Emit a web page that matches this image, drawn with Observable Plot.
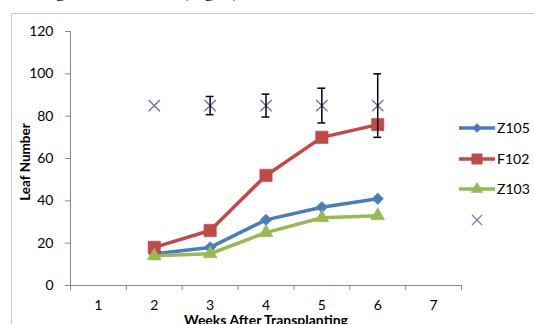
<!DOCTYPE html>
<html>
<head>
<meta charset="utf-8">
<script src="https://cdn.jsdelivr.net/npm/d3@7"></script>
<script src="https://cdn.jsdelivr.net/npm/@observablehq/plot@0.6"></script>
<style>
  html, body { margin: 0; padding: 0; background: #fff; }
  #wrap { position: relative; width: 534px; height: 324px; overflow: hidden; font-family: Lato, "Open Sans", sans-serif; }
  #frame { position: absolute; left: 11px; top: 13px; width: 700px; height: 500px; border: 1px solid #c8c8c8; box-sizing: border-box; }
  #chart { position: absolute; left: 0; top: 0; }
  .cap { position: absolute; top: -20px; font-family: "Liberation Serif", serif; font-size: 19px; color: #000; white-space: nowrap; }
  #ylab { position: absolute; left: 25px; top: 162px; transform: translate(-50%, -50%) rotate(-90deg); font-weight: bold; font-size: 13.5px; white-space: nowrap; }
  #legend { position: absolute; left: 458px; top: 118px; font-size: 14px; }
  .li { position: absolute; left: 0; height: 20px; white-space: nowrap; }
  .li svg { position: absolute; left: 0; top: 0; }
  .li span { position: absolute; left: 39px; top: 1px; }
</style>
</head>
<body>
<div id="wrap">
  <div class="cap" style="left:46px">ng</div>
  <div class="cap" style="left:182px">(Fig. 2)</div>
  <div id="frame"></div>
  <div id="chart"></div>
  <div id="ylab">Leaf Number</div>
  <div id="legend"></div>
</div>
<script>
const weeks = [2, 3, 4, 5, 6];
const z105 = [15, 18, 31, 37, 41];
const f102 = [18, 26, 52, 70, 76];
const z103 = [14, 15, 25, 32, 33];
const markX = [85, 85, 85, 85, 85];
const markErr = [0, 4.3, 5.4, 8.2, 15];
const xTickLabels = [1, 2, 3, 4, 5, 6, 7];
const yTicks = [0, 20, 40, 60, 80, 100, 120];
const seriesNames = ["Z105", "F102", "Z103"];

const colors = {Z105: "#4a7ebb", F102: "#be4b48", Z103: "#98b954", X: "#8064a2"};
const toRows = (name, vals) => weeks.map((w, i) => ({name, week: w, v: vals[i]}));
const rowsZ105 = toRows("Z105", z105);
const rowsF102 = toRows("F102", f102);
const rowsZ103 = toRows("Z103", z103);
const rowsX = weeks.map((w, i) => ({week: w, v: markX[i], e: markErr[i]}));
const errRows = rowsX.filter(d => d.e > 0);
const bandEdges = d3.range(0.5, 8, 1);
const capHalf = 0.07;

const plot = Plot.plot({
  width: 534,
  height: 324,
  marginLeft: 70,
  marginRight: 73,
  marginTop: 31,
  marginBottom: 39,
  style: {fontFamily: "Lato, 'Open Sans', sans-serif", fontSize: "14px", color: "#000", background: "transparent"},
  x: {type: "linear", domain: [0.5, 7.5]},
  y: {type: "linear", domain: [0, 120]},
  marks: [
    Plot.axisY({ticks: yTicks, tickSize: 5, tickPadding: 12, stroke: "#868686", fill: "#000", label: null, fontSize: 14}),
    Plot.axisX({ticks: bandEdges, tickSize: 5, tickFormat: () => "", stroke: "#868686", label: null}),
    Plot.axisX({ticks: xTickLabels, tickSize: 0, tickPadding: 15, tickFormat: d3.format("d"), fill: "#000", label: null, fontSize: 14}),
    Plot.ruleX([0.5], {y1: 0, y2: 120, stroke: "#868686"}),
    Plot.ruleY([0], {x1: 0.5, x2: 7.5, stroke: "#868686"}),
    Plot.line(rowsZ105, {x: "week", y: "v", stroke: colors.Z105, strokeWidth: 3.5}),
    Plot.line(rowsF102, {x: "week", y: "v", stroke: colors.F102, strokeWidth: 3.5}),
    Plot.line(rowsZ103, {x: "week", y: "v", stroke: colors.Z103, strokeWidth: 3.5}),
    Plot.dot(rowsZ105, {x: "week", y: "v", symbol: "diamond2", r: 5, fill: colors.Z105, stroke: colors.Z105, strokeWidth: 1}),
    Plot.dot(rowsF102, {x: "week", y: "v", symbol: "square", r: 7, fill: colors.F102, stroke: colors.F102, strokeWidth: 0.5}),
    Plot.dot(rowsZ103, {x: "week", y: "v", symbol: "triangle", r: 5.2, fill: colors.Z103, stroke: colors.Z103, strokeWidth: 0.5}),
    Plot.dot(rowsX, {x: "week", y: "v", symbol: "times", r: 5.2, stroke: colors.X, strokeWidth: 1.3}),
    Plot.ruleX(errRows, {x: "week", y1: d => d.v - d.e, y2: d => d.v + d.e, stroke: "#000", strokeWidth: 1.5}),
    Plot.ruleY(errRows, {y: d => d.v + d.e, x1: d => d.week - capHalf, x2: d => d.week + capHalf, stroke: "#000", strokeWidth: 1.5}),
    Plot.ruleY(errRows, {y: d => d.v - d.e, x1: d => d.week - capHalf, x2: d => d.week + capHalf, stroke: "#000", strokeWidth: 1.5}),
    Plot.text(["Weeks After Transplanting"], {frameAnchor: "bottom", dy: 39, lineAnchor: "bottom", fontWeight: "bold", fontSize: 14, fill: "#000"})
  ]
});
document.getElementById("chart").appendChild(plot);

// legend
const legend = d3.select("#legend");
const legendItems = [
  {name: "Z105", symbol: d3.symbolDiamond2, size: 60, color: colors.Z105, line: true},
  {name: "F102", symbol: d3.symbolSquare, size: 120, color: colors.F102, line: true},
  {name: "Z103", symbol: d3.symbolTriangle, size: 70, color: colors.Z103, line: true},
  {name: "", symbol: d3.symbolTimes, size: 70, color: colors.X, line: false}
];
legendItems.forEach((it, i) => {
  const div = legend.append("div").attr("class", "li").style("top", (i * 30.5) + "px");
  const s = div.append("svg").attr("width", 40).attr("height", 20);
  if (it.line) s.append("line").attr("x1", 1).attr("x2", 37).attr("y1", 10).attr("y2", 10).attr("stroke", it.color).attr("stroke-width", 3.5);
  const p = s.append("path").attr("d", d3.symbol(it.symbol, it.size)()).attr("transform", "translate(19,10)");
  if (it.line) p.attr("fill", it.color); else p.attr("fill", "none").attr("stroke", it.color).attr("stroke-width", 1.3);
  if (it.name) div.append("span").text(it.name);
});
</script>
</body>
</html>
